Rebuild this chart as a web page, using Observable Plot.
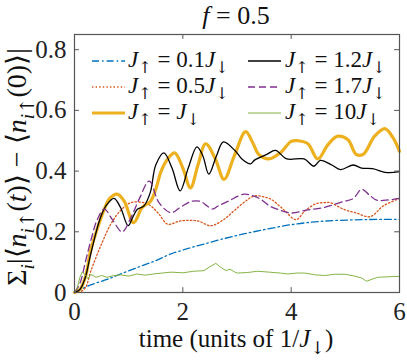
<!DOCTYPE html>
<html><head><meta charset="utf-8">
<script src="https://cdn.jsdelivr.net/npm/d3@7"></script>
<script src="https://cdn.jsdelivr.net/npm/@observablehq/plot@0.6"></script>
<style>
html,body{margin:0;padding:0;background:#fff;}
#chart{width:407px;height:360px;}
</style></head><body><div id="chart"></div>
<script>
// ---- data ----
const xTicks = [0, 2, 4, 6];
const yTicks = [0, 0.2, 0.4, 0.6, 0.8];
const legendLabels = ["0.1", "0.5", "", "1.2", "1.7", "10"];

const t01 = [0,0.3,0.6,0.85,1.2,1.5,1.78,2.1,2.4,2.77,3.1,3.5,4.06,4.6,5.3,6];
const v01 = [0,0.025,0.043,0.061,0.085,0.105,0.127,0.145,0.16,0.178,0.192,0.207,0.225,0.235,0.24,0.241];

const t05 = [0,0.1,0.2,0.3,0.5,0.67,0.85,1.04,1.28,1.41,1.56,1.72,1.96,2.27,2.52,2.75,2.95,3.15,3.32,3.5,3.63,3.85,4.09,4.25,4.45,4.6,4.72,4.97,5.2,5.46,5.7,6];
const v05 = [0,0.002,0.015,0.07,0.16,0.225,0.27,0.296,0.296,0.285,0.258,0.225,0.236,0.236,0.22,0.24,0.27,0.3,0.318,0.315,0.307,0.275,0.24,0.268,0.292,0.296,0.296,0.274,0.262,0.25,0.285,0.31];

const t10 = [0,0.1,0.2,0.3,0.42,0.54,0.65,0.79,0.92,1.09,1.25,1.4,1.5,1.6,1.72,1.85,2.0,2.14,2.28,2.42,2.6,2.76,2.95,3.16,3.3,3.4,3.59,3.8,4.0,4.13,4.31,4.49,4.68,4.86,5.05,5.2,5.33,5.54,5.73,5.88,6];
const v10 = [0,0.01,0.05,0.14,0.21,0.27,0.31,0.324,0.3,0.23,0.28,0.30,0.34,0.40,0.44,0.46,0.41,0.345,0.42,0.49,0.44,0.373,0.45,0.53,0.49,0.455,0.44,0.46,0.498,0.5,0.49,0.44,0.487,0.515,0.503,0.455,0.455,0.515,0.54,0.51,0.465];

const t12 = [0,0.1,0.2,0.3,0.48,0.6,0.73,0.85,0.99,1.08,1.16,1.28,1.4,1.5,1.65,1.8,1.95,2.1,2.26,2.37,2.48,2.62,2.75,2.97,3.09,3.25,3.33,3.55,3.71,3.92,4.24,4.42,4.54,4.75,4.91,5.15,5.3,5.5,5.77,6];
const v12 = [0,0.01,0.05,0.127,0.247,0.29,0.31,0.28,0.22,0.25,0.274,0.285,0.33,0.42,0.46,0.41,0.335,0.41,0.48,0.45,0.39,0.45,0.496,0.466,0.44,0.424,0.437,0.455,0.468,0.44,0.44,0.416,0.435,0.42,0.405,0.42,0.41,0.408,0.395,0.398];

const t17 = [0,0.1,0.2,0.3,0.42,0.55,0.7,0.88,1.05,1.2,1.38,1.56,1.78,1.95,2.15,2.33,2.45,2.55,2.65,2.83,3.13,3.3,3.44,3.6,3.75,4.0,4.3,4.6,4.97,5.15,5.3,5.45,5.58,5.8,6];
const v17 = [0,0.03,0.1,0.17,0.24,0.275,0.24,0.2,0.25,0.31,0.367,0.296,0.263,0.28,0.30,0.30,0.285,0.275,0.285,0.30,0.324,0.318,0.307,0.285,0.274,0.262,0.272,0.28,0.30,0.31,0.34,0.32,0.304,0.305,0.31];

const t100 = [0,0.05,0.1,0.14,0.2,0.25,0.3,0.4,0.5,0.6,0.7,0.85,1.0,1.16,1.3,1.5,1.78,2.0,2.2,2.39,2.5,2.61,2.7,2.8,2.87,2.95,3.01,3.2,3.38,3.6,3.8,3.94,4.1,4.25,4.45,4.62,4.8,4.99,5.15,5.3,5.39,5.5,5.6,5.8,6];
const v100 = [0,0.015,0.05,0.067,0.058,0.045,0.06,0.05,0.056,0.05,0.055,0.058,0.054,0.061,0.057,0.062,0.067,0.065,0.07,0.072,0.085,0.096,0.083,0.072,0.077,0.068,0.064,0.066,0.07,0.067,0.064,0.061,0.064,0.064,0.058,0.056,0.06,0.06,0.055,0.048,0.037,0.044,0.05,0.052,0.053];

const series = [
  {t: t01, v: v01, color: "#0072BD", width: 1.3, dash: "7,3,1.6,3", curve: "catmull-rom"},
  {t: t05, v: v05, color: "#D95319", width: 1.3, dash: "1.4,2.2", curve: "catmull-rom"},
  {t: t10, v: v10, color: "#EDB120", width: 3.2, dash: null, curve: "catmull-rom"},
  {t: t12, v: v12, color: "#000000", width: 1.3, dash: null, curve: "catmull-rom"},
  {t: t17, v: v17, color: "#7E2F8E", width: 1.3, dash: "7,4", curve: "catmull-rom"},
  {t: t100, v: v100, color: "#77AC30", width: 0.9, dash: null, curve: "linear"}
];

const FONT = "Liberation Serif";
const ARROW_FONT = "DejaVu Serif";
const frameColor = "#555";

const lineMarks = series.map(s => Plot.line(s.t.map((t, i) => ({t, v: s.v[i]})), {
  x: "t", y: "v", stroke: s.color, strokeWidth: s.width,
  strokeDasharray: s.dash || undefined, curve: s.curve, strokeLinejoin: "round"
}));

const tickLenY = 0.016, tickLenX = 0.09;
const chart = Plot.plot({
  width: 407, height: 360,
  marginLeft: 74, marginRight: 8, marginTop: 34, marginBottom: 68,
  x: {domain: [0, 6], label: null},
  y: {domain: [0, 0.85], label: null},
  style: {fontFamily: FONT, background: "white", color: "#222", overflow: "visible"},
  marks: [
    ...lineMarks,
    Plot.frame({stroke: frameColor, strokeWidth: 1.2}),
    Plot.ruleX(xTicks, {x: d => d, y1: 0, y2: tickLenY, stroke: frameColor}),
    Plot.ruleX(xTicks, {x: d => d, y1: 0.85, y2: 0.85 - tickLenY, stroke: frameColor}),
    Plot.ruleY(yTicks, {y: d => d, x1: 0, x2: tickLenX, stroke: frameColor}),
    Plot.ruleY(yTicks, {y: d => d, x1: 6, x2: 6 - tickLenX, stroke: frameColor}),
    Plot.axisX(xTicks, {tickSize: 0, tickPadding: 10, fontSize: 25, tickFormat: d => String(d), label: null, fill: "#222"}),
    Plot.axisY(yTicks, {tickSize: 0, tickPadding: 8, fontSize: 25, tickFormat: d => d === 0 ? "0" : d.toFixed(1), label: null, fill: "#222"})
  ]
});
document.getElementById("chart").appendChild(chart);

const svg = d3.select(chart);

function mathText(sel, parts, size) {
  let sub = false;
  parts.forEach(p => {
    const isArrow = /[↑↓]/.test(p.s);
    const ts = sel.append("tspan").text(isArrow ? p.s + "\uFE0E" : p.s);
    if (p.it) ts.attr("font-style", "italic");
    if (isArrow) ts.attr("font-family", ARROW_FONT);
    if (p.sub) ts.attr("font-size", size * 0.7);
    if (p.sub && !sub) ts.attr("dy", size * 0.28);
    if (!p.sub && sub) ts.attr("dy", -size * 0.28);
    sub = !!p.sub;
  });
}

// title
mathText(svg.append("text").attr("x", 236).attr("y", 24).attr("text-anchor", "middle")
  .attr("font-family", FONT).attr("font-size", 26).attr("fill", "#111"),
  [{s: "f", it: true}, {s: " = 0.5"}], 26);

// x label
mathText(svg.append("text").attr("x", 236).attr("y", 347).attr("text-anchor", "middle")
  .attr("font-family", FONT).attr("font-size", 25).attr("fill", "#111"),
  [{s: "time (units of 1/"}, {s: "J", it: true}, {s: "↓", sub: true}, {s: ")"}], 25);

// y label
mathText(svg.append("text").attr("transform", "translate(26,167) rotate(-90)").attr("text-anchor", "middle")
  .attr("font-family", FONT).attr("font-size", 28).attr("fill", "#111"),
  [{s: "Σ"}, {s: "i", it: true, sub: true}, {s: "|⟨"}, {s: "n", it: true}, {s: "i", it: true, sub: true}, {s: "↑", sub: true},
   {s: "("}, {s: "t", it: true}, {s: ")⟩ − ⟨"}, {s: "n", it: true}, {s: "i", it: true, sub: true}, {s: "↑", sub: true}, {s: "(0)⟩|"}], 28);

// legend (column-major, 2 columns x 3 rows)
const legX = [92, 248], legTextX = [128, 285], legY = [61, 87, 113];
series.forEach((s, i) => {
  const col = Math.floor(i / 3), row = i % 3;
  const g = svg.append("g");
  g.append("line").attr("x1", legX[col]).attr("x2", legX[col] + 33).attr("y1", legY[row]).attr("y2", legY[row])
    .attr("stroke", s.color).attr("stroke-width", s.width).attr("stroke-dasharray", s.dash);
  mathText(g.append("text").attr("x", legTextX[col]).attr("y", legY[row] + 6).attr("text-anchor", "start")
    .attr("font-family", FONT).attr("font-size", 23).attr("fill", "#111"),
    [{s: "J", it: true}, {s: "↑", sub: true}, {s: " = " + legendLabels[i]}, {s: "J", it: true}, {s: "↓", sub: true}], 23);
});
</script></body></html>
